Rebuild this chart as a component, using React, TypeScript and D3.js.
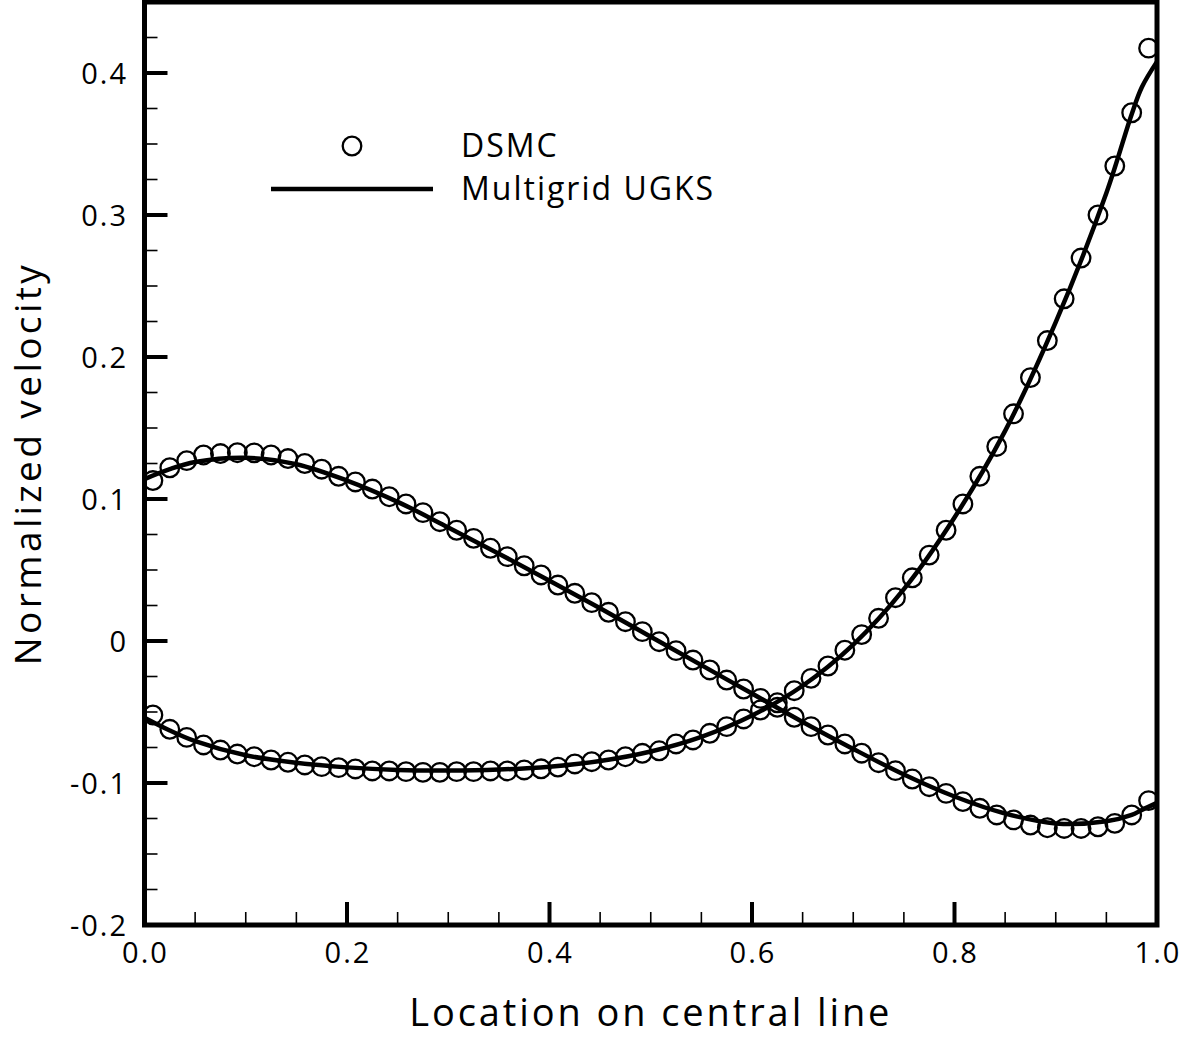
import React, { useEffect, useRef } from 'react';
import * as d3 from 'd3';

// DSMC cell-centre locations along the central line
const dsmcX = [
    0.0083, 0.025, 0.0417, 0.0583, 0.075, 0.0917, 0.1083, 0.125, 0.1417, 0.1583,
    0.175, 0.1917, 0.2083, 0.225, 0.2417, 0.2583, 0.275, 0.2917, 0.3083, 0.325,
    0.3417, 0.3583, 0.375, 0.3917, 0.4083, 0.425, 0.4417, 0.4583, 0.475, 0.4917,
    0.5083, 0.525, 0.5417, 0.5583, 0.575, 0.5917, 0.6083, 0.625, 0.6417, 0.6583,
    0.675, 0.6917, 0.7083, 0.725, 0.7417, 0.7583, 0.775, 0.7917, 0.8083, 0.825,
    0.8417, 0.8583, 0.875, 0.8917, 0.9083, 0.925, 0.9417, 0.9583, 0.975, 0.9917,
];

// horizontal velocity (DSMC)
const dsmcU = [
    0.113, 0.122, 0.127, 0.131, 0.132, 0.1326, 0.1325, 0.131, 0.1285, 0.125,
    0.121, 0.116, 0.112, 0.107, 0.1016, 0.0965, 0.0904, 0.084, 0.078, 0.0723,
    0.0653, 0.0594, 0.053, 0.0465, 0.0394, 0.0336, 0.027, 0.0202, 0.0136, 0.0066,
    -0.0005, -0.0068, -0.0134, -0.0204, -0.0275, -0.0338, -0.0404, -0.0467, -0.0537, -0.0603,
    -0.0662, -0.0725, -0.079, -0.0857, -0.0913, -0.0972, -0.1026, -0.1073, -0.1131, -0.1178,
    -0.1225, -0.126, -0.1296, -0.1315, -0.132, -0.132, -0.1308, -0.1284, -0.1225, -0.1124,
];

// vertical velocity (DSMC)
const dsmcV = [
    -0.0521, -0.0622, -0.0679, -0.0732, -0.0768, -0.0796, -0.0815, -0.0838, -0.0854, -0.0873,
    -0.0885, -0.0892, -0.0901, -0.0915, -0.0915, -0.092, -0.0925, -0.0925, -0.092, -0.092,
    -0.0915, -0.0915, -0.0908, -0.09, -0.0888, -0.0866, -0.085, -0.0838, -0.0815, -0.0791,
    -0.0773, -0.0725, -0.0697, -0.065, -0.0603, -0.0549, -0.0486, -0.0435, -0.035, -0.0263,
    -0.0176, -0.0065, 0.0045, 0.016, 0.0305, 0.0445, 0.0605, 0.078, 0.0965, 0.116,
    0.137, 0.16, 0.1855, 0.2116, 0.241, 0.2697, 0.3, 0.3345, 0.372, 0.4175,
];

// Multigrid UGKS solution
const ugksX = [
    0, 0.025, 0.05, 0.1, 0.15, 0.2, 0.25, 0.3, 0.35, 0.4, 0.45, 0.5,
    0.55, 0.6, 0.65, 0.7, 0.75, 0.8, 0.85, 0.9, 0.95, 0.975, 0.985, 1.0,
];
const ugksU = [
    0.114, 0.121, 0.126, 0.129, 0.1245, 0.113, 0.098, 0.08, 0.0615, 0.0425, 0.023, 0.003,
    -0.017, -0.037, -0.057, -0.076, -0.094, -0.1095, -0.1215, -0.1285, -0.127, -0.1225, -0.119, -0.114,
];
const ugksV = [
    -0.054, -0.063, -0.0705, -0.0805, -0.0858, -0.089, -0.0908, -0.0912, -0.0905, -0.0885, -0.0845, -0.0778,
    -0.0675, -0.0525, -0.0315, -0.0025, 0.0365, 0.087, 0.148, 0.2245, 0.3155, 0.371, 0.39, 0.408,
];

const xTickLabels = ['0.0', '0.2', '0.4', '0.6', '0.8', '1.0'];
const yTickLabels = ['-0.2', '-0.1', '0', '0.1', '0.2', '0.3', '0.4'];

const FONT = '"Open Sans", "Noto Sans", sans-serif';

const App: React.FC = () => {
    const svgRef = useRef<SVGSVGElement>(null);

    useEffect(() => {
        if (!svgRef.current) return;

        const width = 1183;
        const height = 1039;
        const left = 144.5, right = 1157, top = 2, bottom = 925;

        d3.select(svgRef.current).selectAll("*").remove();

        const svg = d3.select(svgRef.current)
            .attr("width", width)
            .attr("height", height);

        const x = d3.scaleLinear().domain([0, 1]).range([left, right]);
        const y = d3.scaleLinear().domain([-0.2, 0.45]).range([bottom, top]);

        const isMajor = (d: number, per: number) => Math.abs(Math.round(d * per) - d * per) < 1e-6;

        // minor + major ticks, left axis
        const yMinor = d3.range(-0.2, 0.451, 0.025);
        svg.append("g").selectAll("line")
            .data(yMinor)
            .enter()
            .append("line")
            .attr("x1", left)
            .attr("x2", d => (isMajor(d, 10) ? left + 23 : left + 13))
            .attr("y1", d => y(d))
            .attr("y2", d => y(d))
            .style("stroke", "#000")
            .style("stroke-width", d => (isMajor(d, 10) ? 4 : 1.6));

        // minor + major ticks, bottom axis
        const xMinor = d3.range(0, 1.001, 0.05);
        svg.append("g").selectAll("line")
            .data(xMinor)
            .enter()
            .append("line")
            .attr("x1", d => x(d))
            .attr("x2", d => x(d))
            .attr("y1", bottom)
            .attr("y2", d => (isMajor(d, 5) ? bottom - 23 : bottom - 13))
            .style("stroke", "#000")
            .style("stroke-width", d => (isMajor(d, 5) ? 4 : 1.6));

        // tick labels
        svg.append("g").selectAll("text")
            .data(xTickLabels)
            .enter()
            .append("text")
            .attr("x", d => x(+d) + 1)
            .attr("y", 963)
            .attr("text-anchor", "middle")
            .style("font-family", FONT)
            .style("font-size", "29px")
            .style("letter-spacing", "2px")
            .text(d => d);

        svg.append("g").selectAll("text")
            .data(yTickLabels)
            .enter()
            .append("text")
            .attr("x", 128)
            .attr("y", d => y(+d) + 10.5)
            .attr("text-anchor", "end")
            .style("font-family", FONT)
            .style("font-size", "29px")
            .style("letter-spacing", "2px")
            .text(d => d);

        // axis titles
        svg.append("text")
            .attr("x", (left + right) / 2)
            .attr("y", 1026)
            .attr("text-anchor", "middle")
            .style("font-family", FONT)
            .style("font-size", "38px")
            .style("letter-spacing", "2.9px")
            .text("Location on central line");

        svg.append("text")
            .attr("transform", `translate(41,${(top + bottom) / 2}) rotate(-90)`)
            .attr("text-anchor", "middle")
            .style("font-family", FONT)
            .style("font-size", "37px")
            .style("letter-spacing", "3.4px")
            .text("Normalized velocity");

        // UGKS lines
        const line = d3.line<number>()
            .x((_, i) => x(ugksX[i]))
            .y(d => y(d))
            .curve(d3.curveCatmullRom.alpha(0.5));

        [ugksU, ugksV].forEach(series => {
            svg.append("path")
                .attr("d", line(series) as string)
                .style("fill", "none")
                .style("stroke", "#000")
                .style("stroke-width", 4.5);
        });

        // DSMC markers
        [dsmcU, dsmcV].forEach(series => {
            svg.append("g").selectAll("circle")
                .data(series)
                .enter()
                .append("circle")
                .attr("cx", (_, i) => x(dsmcX[i]))
                .attr("cy", d => y(d))
                .attr("r", 9.3)
                .style("fill", "none")
                .style("stroke", "#000")
                .style("stroke-width", 2.3);
        });

        // legend
        const legend = svg.append("g");
        legend.append("circle")
            .attr("cx", 352)
            .attr("cy", 146)
            .attr("r", 9.3)
            .style("fill", "none")
            .style("stroke", "#000")
            .style("stroke-width", 2.3);
        legend.append("text")
            .attr("x", 461)
            .attr("y", 157)
            .style("font-family", FONT)
            .style("font-size", "32px")
            .style("letter-spacing", "2px")
            .text("DSMC");
        legend.append("line")
            .attr("x1", 271)
            .attr("x2", 433)
            .attr("y1", 189)
            .attr("y2", 189)
            .style("stroke", "#000")
            .style("stroke-width", 4.5);
        legend.append("text")
            .attr("x", 461)
            .attr("y", 200)
            .style("font-family", FONT)
            .style("font-size", "32px")
            .style("letter-spacing", "2px")
            .text("Multigrid UGKS");

        // frame
        svg.append("rect")
            .attr("x", left)
            .attr("y", top)
            .attr("width", right - left)
            .attr("height", bottom - top)
            .style("fill", "none")
            .style("stroke", "#000")
            .style("stroke-width", 5);
    }, []);

    return (
        <div style={{ position: 'absolute', left: 0, top: 0, background: '#fff' }}>
            <svg ref={svgRef}></svg>
        </div>
    );
};

export default App;
